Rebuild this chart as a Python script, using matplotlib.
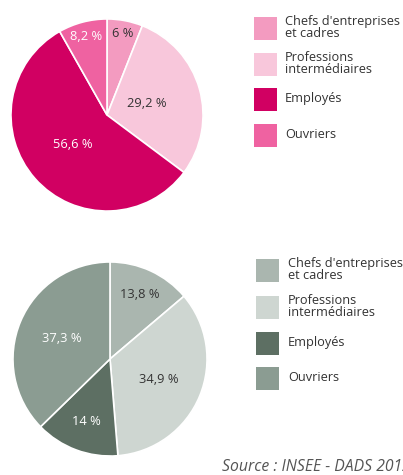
import numpy as np
import matplotlib.pyplot as plt
from matplotlib.patches import Rectangle

plt.rcParams['font.family'] = ['Open Sans', 'DejaVu Sans']

# Données
categories = ["Chefs d'entreprises\net cadres", "Professions\nintermédiaires", "Employés", "Ouvriers"]
femmes = [6, 29.2, 56.6, 8.2]
hommes = [13.8, 34.9, 14, 37.3]
labels_femmes = ["6 %", "29,2 %", "56,6 %", "8,2 %"]
labels_hommes = ["13,8 %", "34,9 %", "14 %", "37,3 %"]
source = "Source : INSEE - DADS 2012"

# Couleurs
roses = ["#F39BC0", "#F8C7DB", "#D10062", "#EF62A1"]
gris = ["#AAB6AF", "#CED6D1", "#5D6F63", "#8B9C92"]
texte_roses = ["#333333", "#333333", "white", "white"]
texte_gris = ["#333333", "#333333", "white", "white"]

W, H = 403, 475
fig = plt.figure(figsize=(W / 100, H / 100), dpi=100)


def pie_axes(x, y, size):
    # position en pixels depuis le coin haut-gauche
    return fig.add_axes([x / W, (H - y - size) / H, size / W, size / H])


def draw_pie(ax, values, labels, colors, txt_colors, dists):
    wedges, _ = ax.pie(values, colors=colors, startangle=90, counterclock=False,
                       radius=1, wedgeprops=dict(edgecolor="white", linewidth=1.2))
    for w, lab, c, d in zip(wedges, labels, txt_colors, dists):
        ang = np.deg2rad((w.theta1 + w.theta2) / 2)
        ax.text(d * np.cos(ang), d * np.sin(ang), lab, ha="center", va="center",
                color=c, fontsize=9.3)
    ax.set_xlim(-1.01, 1.01)
    ax.set_ylim(-1.01, 1.01)
    ax.axis("off")


ax1 = pie_axes(10, 18, 194)
draw_pie(ax1, femmes, labels_femmes, roses, texte_roses, [0.86, 0.43, 0.47, 0.84])

ax2 = pie_axes(12, 261, 196)
draw_pie(ax2, hommes, labels_hommes, gris, texte_gris, [0.73, 0.54, 0.69, 0.54])

# Légendes
leg = fig.add_axes([0, 0, 1, 1])
leg.set_xlim(0, W)
leg.set_ylim(H, 0)
leg.axis("off")


def draw_legend(x0, ys, colors, tx):
    for y, c, cat in zip(ys, colors, categories):
        leg.add_patch(Rectangle((x0, y), 23, 23, facecolor=c, edgecolor="none"))
        leg.text(tx, y + 11.5 - 1, cat, ha="left", va="center", fontsize=9.2,
                 color="#333333", linespacing=0.85)


draw_legend(254, [17, 53, 88, 124], roses, 285)
draw_legend(256, [259, 296, 332, 367], gris, 288)

# la source est coupée au bord droit, comme dans l'original
leg.text(222, 467, source, ha="left", va="center", fontsize=11.3,
         style="italic", color="#555555")

fig.savefig("out.png", dpi=100)
